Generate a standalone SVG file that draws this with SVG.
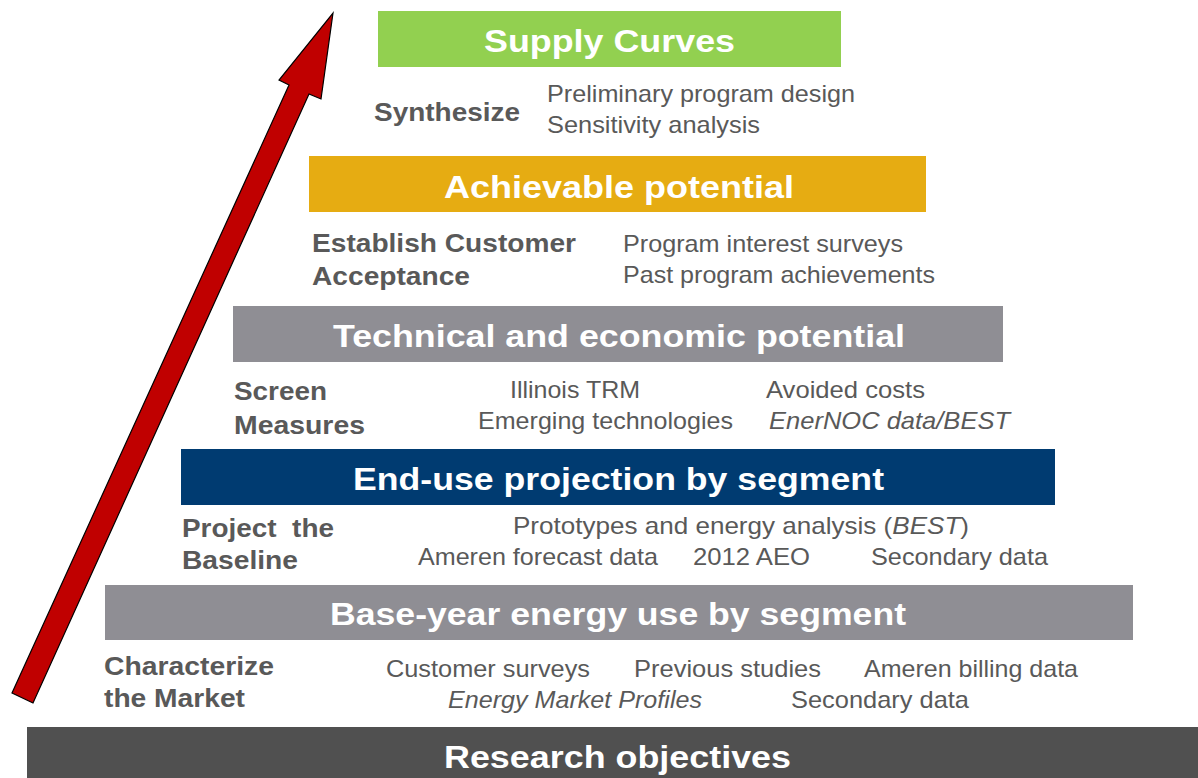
<svg xmlns="http://www.w3.org/2000/svg" width="1198" height="778" viewBox="0 0 1198 778">
<style>
.bar-title{font-family:"Liberation Sans",Arial,sans-serif;font-weight:bold;font-size:32px;fill:#ffffff}
.lbl{font-family:"Liberation Sans",Arial,sans-serif;font-weight:bold;font-size:25px;fill:#595959}
.det{font-family:"Liberation Sans",Arial,sans-serif;font-size:24px;fill:#595959}
.it{font-style:italic}
</style>
<rect width="1198" height="778" fill="#ffffff"/>
<g id="supply">
<rect x="378" y="11" width="463" height="56" fill="#92D050"/>
<text class="bar-title" x="484" y="52" textLength="251" lengthAdjust="spacingAndGlyphs">Supply Curves</text>
<text class="lbl" x="374" y="121" textLength="146" lengthAdjust="spacingAndGlyphs">Synthesize</text>
<text class="det" x="547" y="102" textLength="308" lengthAdjust="spacingAndGlyphs">Preliminary program design</text>
<text class="det" x="547" y="133" textLength="213" lengthAdjust="spacingAndGlyphs">Sensitivity analysis</text>
</g>
<g id="achievable">
<rect x="309" y="156" width="617" height="56" fill="#E6AC12"/>
<text class="bar-title" x="444" y="198" textLength="350" lengthAdjust="spacingAndGlyphs">Achievable potential</text>
<text class="lbl" x="312" y="252" textLength="264" lengthAdjust="spacingAndGlyphs">Establish Customer</text>
<text class="lbl" x="312" y="285" textLength="158" lengthAdjust="spacingAndGlyphs">Acceptance</text>
<text class="det" x="623" y="252" textLength="280" lengthAdjust="spacingAndGlyphs">Program interest surveys</text>
<text class="det" x="623" y="283" textLength="312" lengthAdjust="spacingAndGlyphs">Past program achievements</text>
</g>
<g id="technical">
<rect x="233" y="306" width="770" height="56" fill="#8F8E94"/>
<text class="bar-title" x="333" y="347" textLength="572" lengthAdjust="spacingAndGlyphs">Technical and economic potential</text>
<text class="lbl" x="234" y="400" textLength="93" lengthAdjust="spacingAndGlyphs">Screen</text>
<text class="lbl" x="234" y="434" textLength="131" lengthAdjust="spacingAndGlyphs">Measures</text>
<text class="det" x="510" y="398" textLength="130" lengthAdjust="spacingAndGlyphs">Illinois TRM</text>
<text class="det" x="766" y="398" textLength="159" lengthAdjust="spacingAndGlyphs">Avoided costs</text>
<text class="det" x="478" y="429" textLength="255" lengthAdjust="spacingAndGlyphs">Emerging technologies</text>
<text class="det it" x="769" y="429" textLength="241" lengthAdjust="spacingAndGlyphs">EnerNOC data/BEST</text>
</g>
<g id="enduse">
<rect x="181" y="449" width="874" height="56" fill="#003B71"/>
<text class="bar-title" x="353" y="490" textLength="531" lengthAdjust="spacingAndGlyphs">End-use projection by segment</text>
<text class="lbl" x="182" y="537" textLength="152" lengthAdjust="spacingAndGlyphs" xml:space="preserve">Project  the</text>
<text class="lbl" x="182" y="569" textLength="116" lengthAdjust="spacingAndGlyphs">Baseline</text>
<text class="det" x="513" y="534" textLength="456" lengthAdjust="spacingAndGlyphs">Prototypes and energy analysis (<tspan class="it">BEST</tspan>)</text>
<text class="det" x="418" y="565" textLength="240" lengthAdjust="spacingAndGlyphs">Ameren forecast data</text>
<text class="det" x="693" y="565" textLength="117" lengthAdjust="spacingAndGlyphs">2012 AEO</text>
<text class="det" x="871" y="565" textLength="177" lengthAdjust="spacingAndGlyphs">Secondary data</text>
</g>
<g id="baseyear">
<rect x="105" y="585" width="1028" height="55" fill="#8F8E94"/>
<text class="bar-title" x="330" y="625" textLength="576" lengthAdjust="spacingAndGlyphs">Base-year energy use by segment</text>
<text class="lbl" x="104" y="675" textLength="170" lengthAdjust="spacingAndGlyphs">Characterize</text>
<text class="lbl" x="104" y="707" textLength="141" lengthAdjust="spacingAndGlyphs">the Market</text>
<text class="det" x="386" y="677" textLength="204" lengthAdjust="spacingAndGlyphs">Customer surveys</text>
<text class="det" x="634" y="677" textLength="187" lengthAdjust="spacingAndGlyphs">Previous studies</text>
<text class="det" x="864" y="677" textLength="214" lengthAdjust="spacingAndGlyphs">Ameren billing data</text>
<text class="det it" x="448" y="708" textLength="254" lengthAdjust="spacingAndGlyphs">Energy Market Profiles</text>
<text class="det" x="791" y="708" textLength="178" lengthAdjust="spacingAndGlyphs">Secondary data</text>
</g>
<g id="research">
<rect x="27" y="727" width="1171" height="51" fill="#505050"/>
<text class="bar-title" x="444" y="768" textLength="347" lengthAdjust="spacingAndGlyphs">Research objectives</text>
</g>
<g id="connectors">
<polygon points="333,13 321,99 309,94 33,703 12,693 289,85 279,80" fill="#C00000" stroke="#000000" stroke-width="1.2" stroke-linejoin="miter"/>
</g>
</svg>
